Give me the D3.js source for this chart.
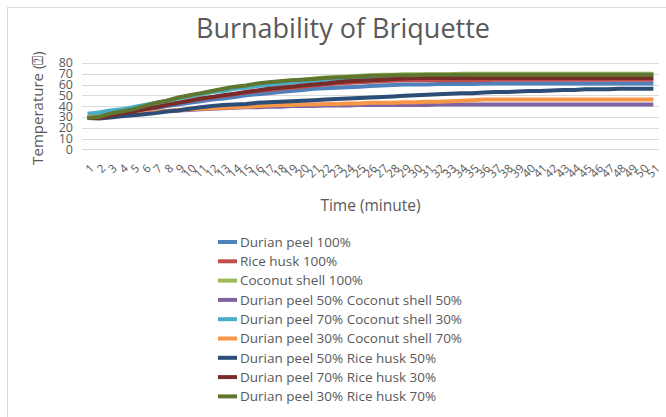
<!DOCTYPE html>
<html>
<head>
<meta charset="utf-8">
<script src="https://cdn.jsdelivr.net/npm/d3@7"></script>
<style>
  body { margin: 0; background: #fff; }
  svg { display: block; font-family: "Open Sans", "Noto Sans", sans-serif; }
  .axis text { fill: #595959; }
  .grid line { stroke: #d9d9d9; stroke-width: 1; }
  .line { fill: none; stroke-width: 4; stroke-linejoin: round; stroke-linecap: butt; }
</style>
</head>
<body>
<svg id="graph"></svg>
<script>
var minutes = d3.range(1, 52);
var yTicks = [0, 10, 20, 30, 40, 50, 60, 70, 80];

var seriesNames = [
  "Durian peel 100%",
  "Rice husk 100%",
  "Coconut shell 100%",
  "Durian peel 50% Coconut shell 50%",
  "Durian peel 70% Coconut shell 30%",
  "Durian peel 30% Coconut shell 70%",
  "Durian peel 50% Rice husk 50%",
  "Durian peel 70% Rice husk 30%",
  "Durian peel 30% Rice husk 70%"
];
var seriesColors = ["#4f81bd", "#c0504d", "#9bbb59", "#8064a2", "#4bacc6", "#f79646", "#2c4d75", "#772c2a", "#5f7530"];

var durian100 = [30,30,32,33,35,36.5,38,40,41.5,43,44.5,46,47,48.5,50,51,52,53,54,55,56,56.5,57,57.5,58,58.5,59,59.5,60,60,60,60.5,60.5,60.5,60.5,61,61,61,61,61,61,61,61,61,61,61,61,61,61,61,61];
var rice100 = [30,30,32,34,36,38,40,42,43,45,46.5,48,49.5,51,52.5,54,55,56,57,58,59,60,61,61.5,62,62.5,63,63.5,64,64,64,64,64,64,64,64,64.5,64.5,64.5,64.5,64.5,64.5,64.5,64.5,64.5,64.5,64.5,64.5,64.5,64.5,64.5];
var coconut100 = [30,31,33,35,37,39,42,44,47,49,51,53,55,57,58.5,60,61,62.5,63.5,64.5,65.5,66.5,67,67.5,68,68.5,69,69,69.5,69.5,69.5,69.5,69.5,70,70,70,70,70,70,70,70,70,70,70,70,70,70,70,70,70,70];
var d50c50 = [30,29.5,30.5,31.5,32.5,33.5,34.5,35.5,36,36.5,37,37.5,38,38.5,39,39,39.5,39.5,40,40,40,40.5,40.5,40.5,41,41,41,41,41,41,41,41.5,41.5,41.5,41.5,41.5,41.5,41.5,41.5,41.5,41.5,41.5,41.5,41.5,41.5,41.5,41.5,41.5,41.5,41.5,41.5];
var d70c30 = [33,34,36,37,39,41,43,45,47,49,51,53,54,56,57,58.5,59.5,60.5,61.5,62.5,63.5,64.5,65,66,66.5,67,67.5,68,68,68.5,68.5,68.5,68.5,68.5,69,69,69,69,69,69,69,69,69,69,69,69,69,69,69,69,69];
var d30c70 = [30,29.5,30.5,31.5,32.5,33.5,34.5,35.5,36.5,37,37.5,38,38.5,39,39.5,40,40.5,41,41,41.5,41.5,42,42,42.5,42.5,43,43,43,43.5,43.5,44,44,44.5,45,45.5,46,46,46,46,46,46,46,46,46,46,46,46,46,46,46,46];
var d50r50 = [29,28.5,29.5,30.5,31.5,32.5,33.5,35,36,37.5,39,40,41,41.5,42,43,43.5,44,44.5,45,45.5,46,46.5,47,47.5,48,48.5,49,49.5,50,50.5,51,51.5,52,52,52.5,53,53,53.5,54,54,54.5,55,55,55.5,55.5,55.5,56,56,56,56];
var d70r30 = [29,29,31,33,35,37,39,41,43,45,47,48.5,50,51.5,53,54.5,56,57,58,59,60,61,62,63,63.5,64,64.5,65,65.5,66,66,66,66,66,66,66,66,66,66,66,66,66,66,66,66,66,66,66,66,66,66];
var d30r70 = [29,30,33,35,37,40,43,45,48,50,52,54,56,58,59,61,62,63,64,64.5,65,66,66.5,67,67.5,68,68,68.5,68.5,68.5,69,69,69,69,69,69,69,69,69,69,69,69,69,69,69,69,69,69,69,69,69];

var seriesValues = [durian100, rice100, coconut100, d50c50, d70c30, d30c70, d50r50, d70r30, d30r70];

var W = 666, H = 417;
var svg = d3.select("#graph").attr("width", W).attr("height", H);

// chart area border
svg.append("rect")
  .attr("x", 7.5).attr("y", 7.5)
  .attr("width", 700).attr("height", 440)
  .attr("fill", "#fff").attr("stroke", "#d9d9d9");

svg.append("text")
  .attr("x", 343).attr("y", 38)
  .attr("text-anchor", "middle")
  .attr("font-size", 27)
  .attr("fill", "#595959")
  .text("Burnability of Briquette");

var plot = {left: 82, right: 659, top: 62.9, bottom: 149.3};

var x = d3.scalePoint().domain(minutes).range([plot.left, plot.right]).padding(0.5);
var y = d3.scaleLinear().domain([0, 80]).range([plot.bottom, plot.top]);

// gridlines
svg.append("g").attr("class", "grid")
  .selectAll("line").data(yTicks).enter().append("line")
    .attr("x1", plot.left).attr("x2", plot.right)
    .attr("y1", function(d) { return Math.round(y(d)) + 0.5; })
    .attr("y2", function(d) { return Math.round(y(d)) + 0.5; });

// y axis labels
var yAxis = d3.axisLeft(y).tickValues(yTicks).tickSize(0).tickPadding(0);
svg.append("g")
  .attr("class", "axis yaxis")
  .attr("transform", "translate(73,0)")
  .call(yAxis)
  .call(function(g) { g.select(".domain").remove(); })
  .selectAll("text").attr("font-size", 12.5).attr("font-family", "Open Sans");

// x axis labels
var xAxis = d3.axisBottom(x).tickSize(0).tickPadding(0);
svg.append("g")
  .attr("class", "axis xaxis")
  .attr("transform", "translate(0," + (plot.bottom + 17) + ")")
  .call(xAxis)
  .call(function(g) { g.select(".domain").remove(); })
  .selectAll("text")
    .attr("font-size", 11.5)
    .attr("font-family", "Open Sans")
    .attr("text-anchor", "end")
    .attr("dy", "0.35em")
    .attr("transform", "translate(4,0) rotate(-45)");

// axis titles
svg.append("text")
  .attr("transform", "translate(43,108) rotate(-90)")
  .attr("text-anchor", "middle")
  .attr("font-size", 15)
  .attr("fill", "#595959")
  .text("Temperature (\u2370)");

svg.append("text")
  .attr("x", (plot.left + plot.right) / 2).attr("y", 211)
  .attr("text-anchor", "middle")
  .attr("font-size", 15.5)
  .attr("fill", "#595959")
  .text("Time (minute)");

// lines
var lineFunc = d3.line()
  .x(function(d, i) { return x(minutes[i]); })
  .y(function(d) { return y(d); });

svg.append("g").selectAll("path").data(seriesValues).enter().append("path")
  .attr("class", "line")
  .attr("stroke", function(d, i) { return seriesColors[i]; })
  .attr("d", lineFunc);

// legend
var legend = svg.append("g").selectAll("g").data(seriesNames).enter().append("g")
  .attr("transform", function(d, i) { return "translate(218," + (242 + i * 19.3) + ")"; });
legend.append("line")
  .attr("x1", 0).attr("x2", 19).attr("y1", 0).attr("y2", 0)
  .attr("stroke-width", 4)
  .attr("stroke", function(d, i) { return seriesColors[i]; });
legend.append("text")
  .attr("x", 22).attr("dy", "0.35em")
  .attr("font-size", 13.5)
  .attr("fill", "#595959")
  .text(function(d) { return d; });
</script>
</body>
</html>
